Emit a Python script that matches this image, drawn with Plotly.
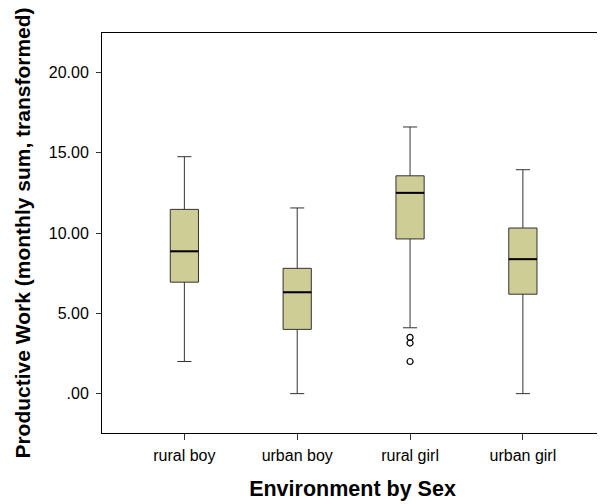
import plotly.graph_objects as go

categories = ["rural boy", "urban boy", "rural girl", "urban girl"]
lower_whisker = [2.0, 0.0, 4.1, 0.0]
q1 = [6.94, 4.0, 9.63, 6.19]
median = [8.86, 6.31, 12.5, 8.37]
q3 = [11.47, 7.8, 13.56, 10.31]
upper_whisker = [14.75, 11.56, 16.6, 13.94]
outlier_cat = ["rural girl", "rural girl", "rural girl"]
outlier_val = [3.5, 3.15, 2.0]

ytick_vals = [0, 5, 10, 15, 20]
ytick_text = [".00", "5.00", "10.00", "15.00", "20.00"]

BOX_W = 0.25

fig = go.Figure()
fig.add_trace(go.Box(
    x=categories, q1=q1, median=median, q3=q3,
    lowerfence=lower_whisker, upperfence=upper_whisker,
    fillcolor="#CECD96", line=dict(color="#333333", width=1),
    width=BOX_W, whiskerwidth=0.5, boxpoints=False, showlegend=False,
    hoverinfo="skip",
))
fig.add_trace(go.Scatter(
    x=outlier_cat, y=outlier_val, mode="markers",
    marker=dict(symbol="circle-open", size=6, color="#000000", line=dict(width=1.2)),
    showlegend=False, hoverinfo="skip",
))
# thicker median lines
for i, m in enumerate(median):
    fig.add_shape(type="line", xref="x", yref="y", x0=i - BOX_W / 2, x1=i + BOX_W / 2,
                  y0=m, y1=m, line=dict(color="#000000", width=2))

# page body has an 8px margin, so the figure is sized to fit inside the window
fig.update_layout(
    width=597, height=496,
    margin=dict(l=94, r=2, t=25, b=71),
    paper_bgcolor="white", plot_bgcolor="white",
    font=dict(family="Liberation Sans, Arial, sans-serif", color="#000000"),
)
fig.update_xaxes(
    type="category", categoryorder="array", categoryarray=categories,
    range=[-0.73, 3.71],
    showline=True, linecolor="#000000", linewidth=1, mirror=True,
    ticks="outside", ticklen=6, tickcolor="#333333", showgrid=False,
    tickfont=dict(size=16), ticklabelstandoff=2,
    title=dict(text="<b>Environment by Sex</b>", font=dict(size=21.5), standoff=17),
    automargin=False,
)
fig.update_yaxes(
    range=[-2.45, 22.45], tickvals=ytick_vals, ticktext=ytick_text,
    showline=True, linecolor="#000000", linewidth=1, mirror=True,
    ticks="outside", ticklen=5, tickcolor="#333333", showgrid=False, zeroline=False,
    tickfont=dict(size=16), ticklabelstandoff=4,
    title=dict(text="<b>Productive Work (monthly sum, transformed)</b>", font=dict(size=21), standoff=12),
    automargin=False,
)
fig.write_html("out.html")
